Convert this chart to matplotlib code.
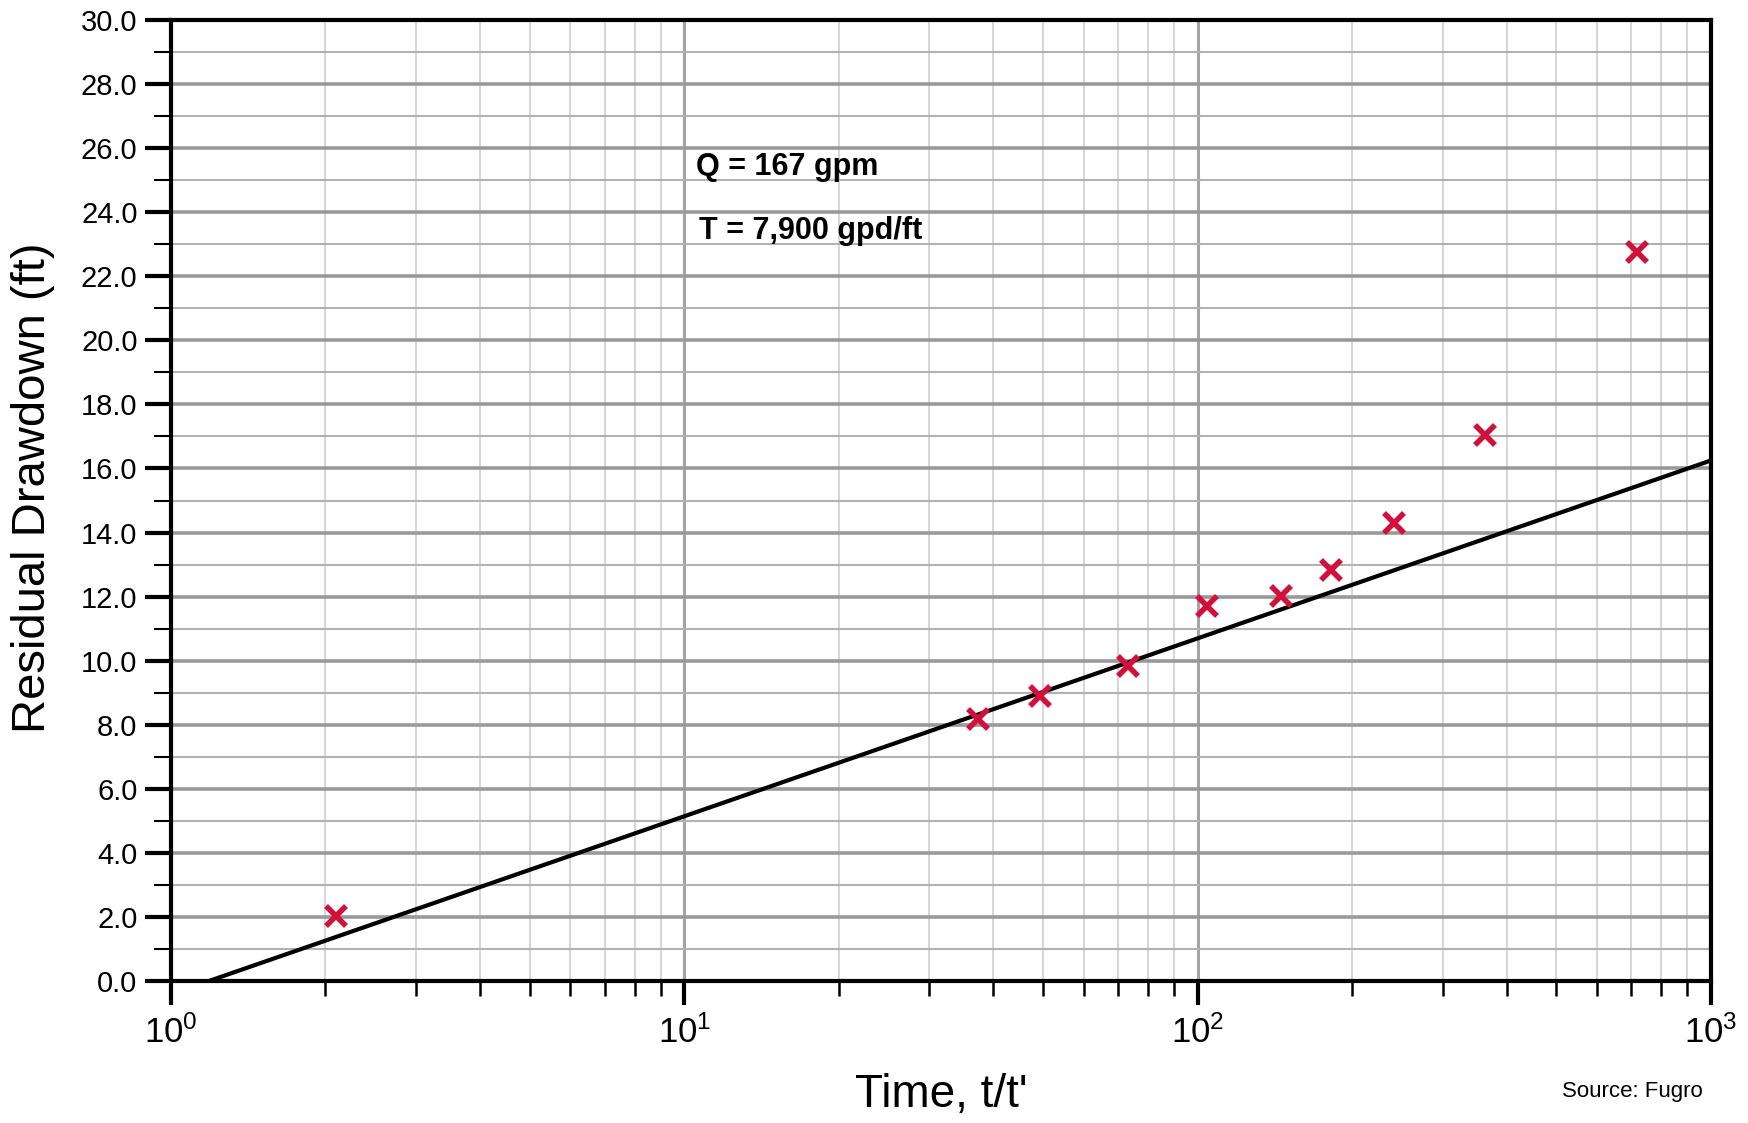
import numpy as np
import matplotlib
matplotlib.use("Agg")
import matplotlib.pyplot as plt
from matplotlib.ticker import LogLocator, MultipleLocator, FormatStrFormatter, NullFormatter

plt.rcParams["font.family"] = "Liberation Sans"
plt.rcParams["mathtext.fontset"] = "custom"
plt.rcParams["mathtext.rm"] = "Liberation Sans"
plt.rcParams["mathtext.it"] = "Liberation Sans:italic"
plt.rcParams["mathtext.bf"] = "Liberation Sans:bold"

# ---- data ----
time_ratio = [2.10, 37.3, 49.3, 73.2, 104.4, 145.2, 181.8, 241.8, 362.4, 718.8]
drawdown = [2.02, 8.18, 8.91, 9.85, 11.70, 12.01, 12.84, 14.31, 17.06, 22.76]

# straight-line fit (end points)
fit_x = [1.185, 1000.0]
fit_y = [0.0, 16.25]

note_q = "Q = 167 gpm"
note_t = "T = 7,900 gpd/ft"

fig = plt.figure(figsize=(17.48, 11.23), dpi=100)
ax = fig.add_axes([0.0978, 0.1264, 0.8810, 0.8558])

ax.set_xscale("log")
ax.set_xlim(1, 1000)
ax.set_ylim(0, 30)

# graph-paper grid
ax.yaxis.set_major_locator(MultipleLocator(2))
ax.yaxis.set_minor_locator(MultipleLocator(1))
ax.yaxis.set_major_formatter(FormatStrFormatter("%.1f"))
ax.xaxis.set_major_locator(LogLocator(base=10))
ax.xaxis.set_minor_locator(LogLocator(base=10, subs=np.arange(2, 10)))
ax.xaxis.set_minor_formatter(NullFormatter())

ax.grid(True, which="major", axis="y", color="#999999", lw=2.6, zorder=0)
ax.grid(True, which="minor", axis="y", color="#b2b2b2", lw=1.5, zorder=0)
ax.grid(True, which="major", axis="x", color="#a4a4a4", lw=2.2, zorder=0)
ax.grid(True, which="minor", axis="x", color="#d0d0d0", lw=1.2, zorder=0)
ax.set_axisbelow(True)

ax.plot(fit_x, fit_y, color="black", lw=3.0, zorder=3)
ax.plot(time_ratio, drawdown, "x", ms=15, mew=4.0, color="#d2103c", zorder=4)

ax.text(10.53, 25.4, note_q, fontsize=22, fontweight="bold", ha="left", va="center")
ax.text(10.69, 23.42, note_t, fontsize=22, fontweight="bold", ha="left", va="center")

for s in ax.spines.values():
    s.set_linewidth(3)
    s.set_color("black")

ax.tick_params(axis="y", which="major", direction="out", length=19, width=3,
               labelsize=21, pad=5)
ax.tick_params(axis="y", which="minor", direction="out", length=12, width=1.5)
ax.tick_params(axis="x", which="major", direction="out", length=17, width=3,
               labelsize=25, pad=8)
ax.tick_params(axis="x", which="minor", direction="out", length=11, width=1.8)

ax.set_ylabel("Residual Drawdown (ft)", fontsize=34)
ax.yaxis.set_label_coords(-0.075, 0.513)
ax.set_xlabel("Time, t/t'", fontsize=33)
ax.xaxis.set_label_coords(0.5, -0.096)

fig.text(0.974, 0.028, "Source: Fugro", fontsize=16, ha="right", va="center")

fig.savefig("out.png", dpi=100)
